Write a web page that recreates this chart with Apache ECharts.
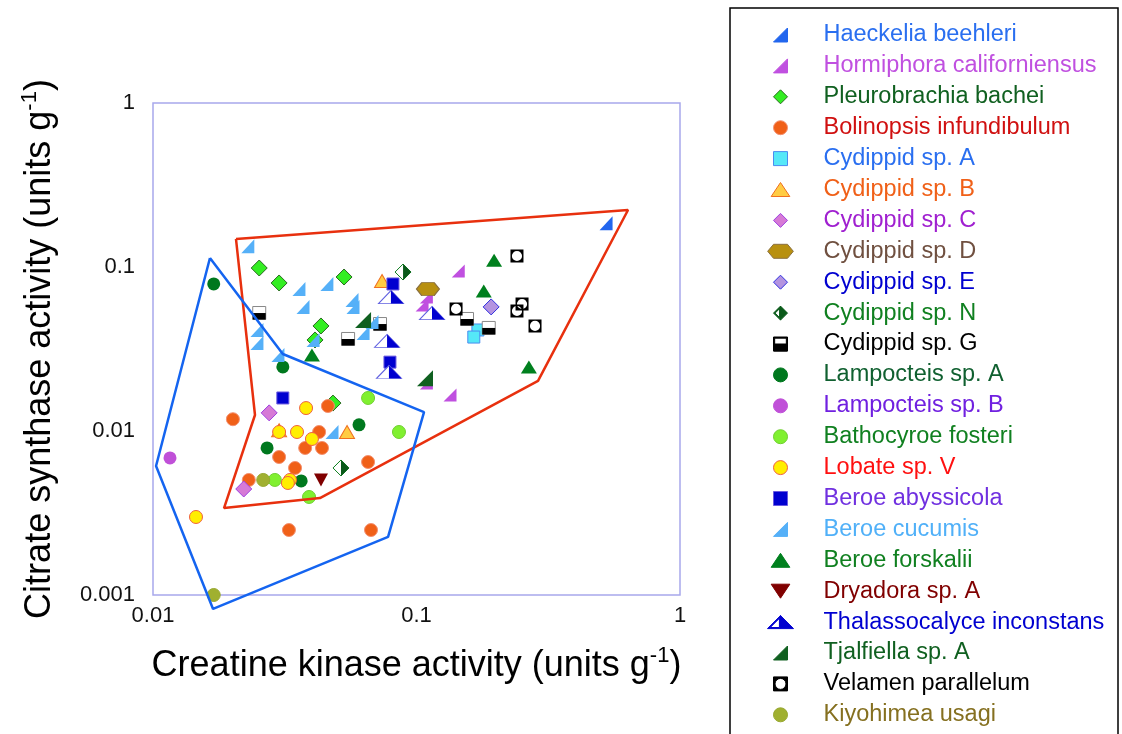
<!DOCTYPE html>
<html>
<head>
<meta charset="utf-8">
<script src="https://cdn.jsdelivr.net/npm/echarts@6/dist/echarts.min.js"></script>
<style>
  html, body { margin: 0; padding: 0; background: #fff; }
  #chart { width: 1122px; height: 734px; }
</style>
</head>
<body>
<div id="chart"></div>
<script>
// values: [creatine kinase, citrate synthase] (units g-1)
const haeckeliaBeehleri = [[0.524, 0.185]]
const hormiphoraCaliforniensus = [[0.144, 0.0945], [0.109, 0.0656], [0.105, 0.0587], [0.109, 0.0196], [0.134, 0.0166]]
const pleurobrachiaBachei = [[0.0253, 0.0986], [0.0301, 0.0799], [0.0531, 0.0869], [0.0434, 0.0437], [0.0412, 0.0359], [0.0482, 0.0148]]
const bolinopsisInfundibulum = [[0.0201, 0.0118], [0.0461, 0.0142], [0.0427, 0.00986], [0.0378, 0.00788], [0.0438, 0.00788], [0.0301, 0.00694],
  [0.0346, 0.00595], [0.0231, 0.00503], [0.0328, 0.00249], [0.0655, 0.00647], [0.0672, 0.00249]]
const cydippidA = [[0.171, 0.0413], [0.165, 0.0374]]
const cydippidB = [[0.074, 0.0821], [0.0301, 0.0101], [0.0545, 0.00986]]
const cydippidC = [[0.0276, 0.0129], [0.0221, 0.00443]]
const cydippidD = [[0.1105, 0.0734]]
const cydippidE = [[0.192, 0.0571]]
const cydippidN = [[0.0889, 0.0932], [0.0517, 0.00595]]
const cydippidG = [[0.0253, 0.0524], [0.055, 0.0364], [0.0727, 0.0449], [0.1555, 0.0482], [0.188, 0.0425]]
const lampocteisA = [[0.017, 0.0788], [0.0311, 0.0246], [0.0271, 0.00788], [0.0365, 0.00496], [0.0605, 0.0109]]
const lampocteisB = [[0.0116, 0.00685]]
const bathocyroeFosteri = [[0.0655, 0.0159], [0.0858, 0.00986], [0.0391, 0.00396], [0.029, 0.00503]]
const lobateV = [[0.0381, 0.0138], [0.0301, 0.00986], [0.0352, 0.00986], [0.0401, 0.00894], [0.0331, 0.00503], [0.0325, 0.00482], [0.01456, 0.00299]]
const beroeAbyssicola = [[0.0814, 0.0788], [0.0793, 0.0263], [0.0311, 0.0159]]
const beroeCucumis = [[0.0229, 0.134], [0.0358, 0.0734], [0.0457, 0.0788], [0.0371, 0.0571], [0.0569, 0.0629], [0.0574, 0.0571], [0.0248, 0.0413],
  [0.0248, 0.0344], [0.0298, 0.0291], [0.0405, 0.0359], [0.0678, 0.0462], [0.0627, 0.0396], [0.0478, 0.00986]]
const beroeForskalii = [[0.0401, 0.0291], [0.197, 0.11], [0.18, 0.0714], [0.267, 0.0246]]
const dryadoraA = [[0.0434, 0.00503]]
const thalassocalyceInconstans = [[0.08, 0.0656], [0.1145, 0.0524], [0.0773, 0.0354], [0.0786, 0.0229]]
const tjalfiellaA = [[0.0627, 0.0475], [0.1077, 0.021]]
const velamenParallelum = [[0.2406, 0.1167], [0.2515, 0.0595], [0.2406, 0.0539], [0.2817, 0.0437], [0.1413, 0.0555]]
const kiyohimeaUsagi = [[0.0262, 0.00503], [0.017, 0.001]]

// outlines drawn round the two groups
const redHull = [[0.02065, 0.1482], [0.635, 0.2227], [0.2892, 0.0202], [0.043, 0.0039], [0.0186, 0.00339], [0.02438, 0.01252], [0.02065, 0.1482]]
const blueHull = [[0.01645, 0.1135], [0.0311, 0.02948], [0.1068, 0.01305], [0.078, 0.00226], [0.0169, 0.000822], [0.01027, 0.00612], [0.01645, 0.1135]]

const xTicks = [0.01, 0.1, 1]
const yTicks = [0.001, 0.01, 0.1, 1]

// marker shapes
const RTRI = 'path://M12,0 L12,12 L0,12 Z'
const UPTRI = 'path://M8,0 L16,12 L0,12 Z'
const DOWNTRI = 'path://M0,0 L16,0 L8,12 Z'
const DIAM = 'path://M6,0 L12,6 L6,12 L0,6 Z'
const SQ = 'path://M0,0 L12,0 L12,12 L0,12 Z'
const HEX = 'path://M5,0 L17,0 L22,6 L17,12 L5,12 L0,6 Z'
const G_ICON = 'path://M0,0 L12,0 L12,12 L0,12 Z M1,1 L1,11 L11,11 L11,1 Z M0,6 L12,6 L12,12 L0,12 Z'
const N_ICON = 'path://M6,0 L0,6 L6,12 Z M5.2,2.2 L5.2,9.8 L1.4,6 Z M6,0 L12,6 L6,12 Z'
const T_ICON = 'path://M12,0 L0,12 L12,12 Z M11,2.5 L11,11 L2.5,11 Z M12,0 L24,12 L12,12 Z'
const V_ICON = 'path://M0,0 L12,0 L12,12 L0,12 Z M6,1.3 A4.7,4.7 0 0 0 6,10.7 A4.7,4.7 0 0 0 6,1.3 Z'

const FONT = "'Liberation Sans', Arial, sans-serif"

// name, data, symbol, size, fill, border, legend text colour, legend icon
const species = [
  { name: 'Haeckelia beehleri', data: haeckeliaBeehleri, symbol: RTRI, size: [13, 14], color: '#2266ee', text: '#2a6ff0' },
  { name: 'Hormiphora californiensus', data: hormiphoraCaliforniensus, symbol: RTRI, size: [13, 13], color: '#c050e0', text: '#c050e0' },
  { name: 'Pleurobrachia bachei', data: pleurobrachiaBachei, symbol: 'diamond', size: 16, color: '#33ee22', border: '#2a6a20', text: '#106020', icon: DIAM },
  { name: 'Bolinopsis infundibulum', data: bolinopsisInfundibulum, symbol: 'circle', size: 13, color: '#f06018', border: '#f49070', text: '#d01010', icon: 'circle' },
  { name: 'Cydippid sp. A', data: cydippidA, symbol: 'rect', size: 12, color: '#55e8f8', border: '#4a8cf0', text: '#2a6ff0', icon: SQ },
  { name: 'Cydippid sp. B', data: cydippidB, symbol: 'triangle', size: [15, 13], color: '#ffcc44', border: '#f07020', text: '#f06018', icon: UPTRI },
  { name: 'Cydippid sp. C', data: cydippidC, symbol: 'diamond', size: 16, color: '#d67ad6', border: '#a040e0', text: '#a020d0', icon: DIAM },
  { name: 'Cydippid sp. D', data: cydippidD, symbol: HEX, size: [23, 13], color: '#b89010', border: '#8a7040', text: '#705040' },
  { name: 'Cydippid sp. E', data: cydippidE, symbol: 'diamond', size: 16, color: '#b494e0', border: '#3030e0', text: '#0000d0', icon: DIAM },
  { name: 'Cydippid sp. N', data: cydippidN, symbol: 'path://M0,0 L6,6 L0,12 Z', size: [8, 16], offset: [4, 0], color: '#0a5a1a', text: '#108020', icon: N_ICON,
    under: { symbol: 'diamond', size: 16, color: '#fff', border: '#108020' } },
  { name: 'Cydippid sp. G', data: cydippidG, symbol: 'rect', size: [13, 6.5], offset: [0, 3.25], color: '#000', text: '#000', icon: G_ICON,
    under: { symbol: 'rect', size: 13, color: '#fff', border: '#888' } },
  { name: 'Lampocteis sp. A', data: lampocteisA, symbol: 'circle', size: 13, color: '#00781e', text: '#106030', icon: 'circle' },
  { name: 'Lampocteis sp. B', data: lampocteisB, symbol: 'circle', size: 13, color: '#c050d8', text: '#7020e0', icon: 'circle' },
  { name: 'Bathocyroe fosteri', data: bathocyroeFosteri, symbol: 'circle', size: 13, color: '#80f030', border: '#70d030', text: '#108020', icon: 'circle' },
  { name: 'Lobate sp. V', data: lobateV, symbol: 'circle', size: 13, color: '#ffee00', border: '#f06040', text: '#ff1010', icon: 'circle' },
  { name: 'Beroe abyssicola', data: beroeAbyssicola, symbol: 'rect', size: 12, color: '#0000d0', border: '#6a5ae0', text: '#7030e0', icon: SQ },
  { name: 'Beroe cucumis', data: beroeCucumis, symbol: RTRI, size: [13, 14], color: '#55b0f8', text: '#50b0f8' },
  { name: 'Beroe forskalii', data: beroeForskalii, symbol: 'triangle', size: [16, 13], color: '#00801e', text: '#108020', icon: UPTRI },
  { name: 'Dryadora sp. A', data: dryadoraA, symbol: 'path://M0,0 L16,0 L8,12 Z', size: [14, 13], color: '#800000', text: '#800000', icon: DOWNTRI },
  { name: 'Thalassocalyce inconstans', data: thalassocalyceInconstans, symbol: 'path://M0,0 L12,12 L0,12 Z', size: [12.5, 13], offset: [6.25, 0], color: '#0000d0', text: '#0000d0', icon: T_ICON,
    under: { symbol: 'path://M12,0 L24,12 L0,12 Z', size: [25, 13], color: '#fff', border: '#6060e0' } },
  { name: 'Tjalfiella sp. A', data: tjalfiellaA, symbol: RTRI, size: [16, 16], color: '#106020', text: '#106020' },
  { name: 'Velamen parallelum', data: velamenParallelum, symbol: V_ICON, size: 13, color: '#000', text: '#000',
    under: { symbol: 'circle', size: 11, color: '#fff' } },
  { name: 'Kiyohimea usagi', data: kiyohimeaUsagi, symbol: 'circle', size: 13, color: '#a0b030', border: '#98a830', text: '#857020', icon: 'circle' }
]

const series = []
species.forEach(s => {
  if (s.under) {
    series.push({
      name: s.name + ' (bg)',
      type: 'scatter',
      data: s.data,
      symbol: s.under.symbol,
      symbolSize: s.under.size,
      clip: false,
      itemStyle: { color: s.under.color, borderColor: s.under.border || 'transparent', borderWidth: s.under.border ? 1 : 0, opacity: 1 }
    })
  }
  series.push({
    name: s.name,
    type: 'scatter',
    data: s.data,
    symbol: s.symbol,
    symbolSize: s.size,
    symbolOffset: s.offset || [0, 0],
    clip: false,
    itemStyle: { color: s.color, borderColor: s.border || s.color, borderWidth: s.border ? 1 : 0, opacity: 1 }
  })
})

series.push({
  name: 'red hull', type: 'line', data: redHull, symbol: 'none', clip: false, silent: true,
  lineStyle: { color: '#e8300e', width: 2.5 }
})
series.push({
  name: 'blue hull', type: 'line', data: blueHull, symbol: 'none', clip: false, silent: true,
  lineStyle: { color: '#1464f0', width: 2.5 }
})

const fmt = v => String(Number(Number(v).toPrecision(3)))

const titleRich = {
  a: { fontSize: 36, color: '#000', fontFamily: FONT, lineHeight: 42 },
  s: { fontSize: 22, color: '#000', fontFamily: FONT, verticalAlign: 'top', lineHeight: 42 }
}

const chart = echarts.init(document.getElementById('chart'))
chart.setOption({
  animation: false,
  backgroundColor: '#fff',
  textStyle: { fontFamily: FONT },
  grid: { left: 153, right: 442, top: 103, bottom: 139, show: true, borderColor: '#a8a8ec', borderWidth: 1.5 },
  xAxis: {
    type: 'log', logBase: 10, min: xTicks[0], max: xTicks[xTicks.length - 1],
    axisLine: { show: false }, axisTick: { show: false }, splitLine: { show: false },
    axisLabel: { fontSize: 22, color: '#111', margin: 10, formatter: fmt, fontFamily: FONT },
    name: '{a|Creatine kinase activity (units g}{s|-1}{a|)}',
    nameLocation: 'middle', nameGap: 50,
    nameTextStyle: { rich: titleRich }
  },
  yAxis: {
    type: 'log', logBase: 10, min: yTicks[0], max: yTicks[yTicks.length - 1],
    axisLine: { show: false }, axisTick: { show: false }, splitLine: { show: false },
    axisLabel: { fontSize: 22, color: '#111', margin: 18, formatter: fmt, fontFamily: FONT },
    name: '{a|Citrate synthase activity (units g}{s|-1}{a|)}',
    nameLocation: 'middle', nameGap: 92,
    nameTextStyle: { rich: titleRich }
  },
  legend: {
    orient: 'vertical',
    left: 767, top: 23, height: 760,
    padding: 0,
    itemWidth: 26, itemHeight: 14, itemGap: 6.9,
    selectedMode: false,
    itemStyle: { borderWidth: 1 },
    textStyle: { fontSize: 23.5, fontFamily: FONT, lineHeight: 24, padding: [0, 0, 0, 25] },
    data: species.map(s => ({
      name: s.name,
      icon: s.icon || s.symbol,
      textStyle: { color: s.text }
    }))
  },
  graphic: [{
    type: 'rect', silent: true,
    shape: { x: 730, y: 8, width: 388, height: 760 },
    style: { fill: 'none', stroke: '#000', lineWidth: 1.5 }
  }],
  series: series
})
</script>
</body>
</html>
